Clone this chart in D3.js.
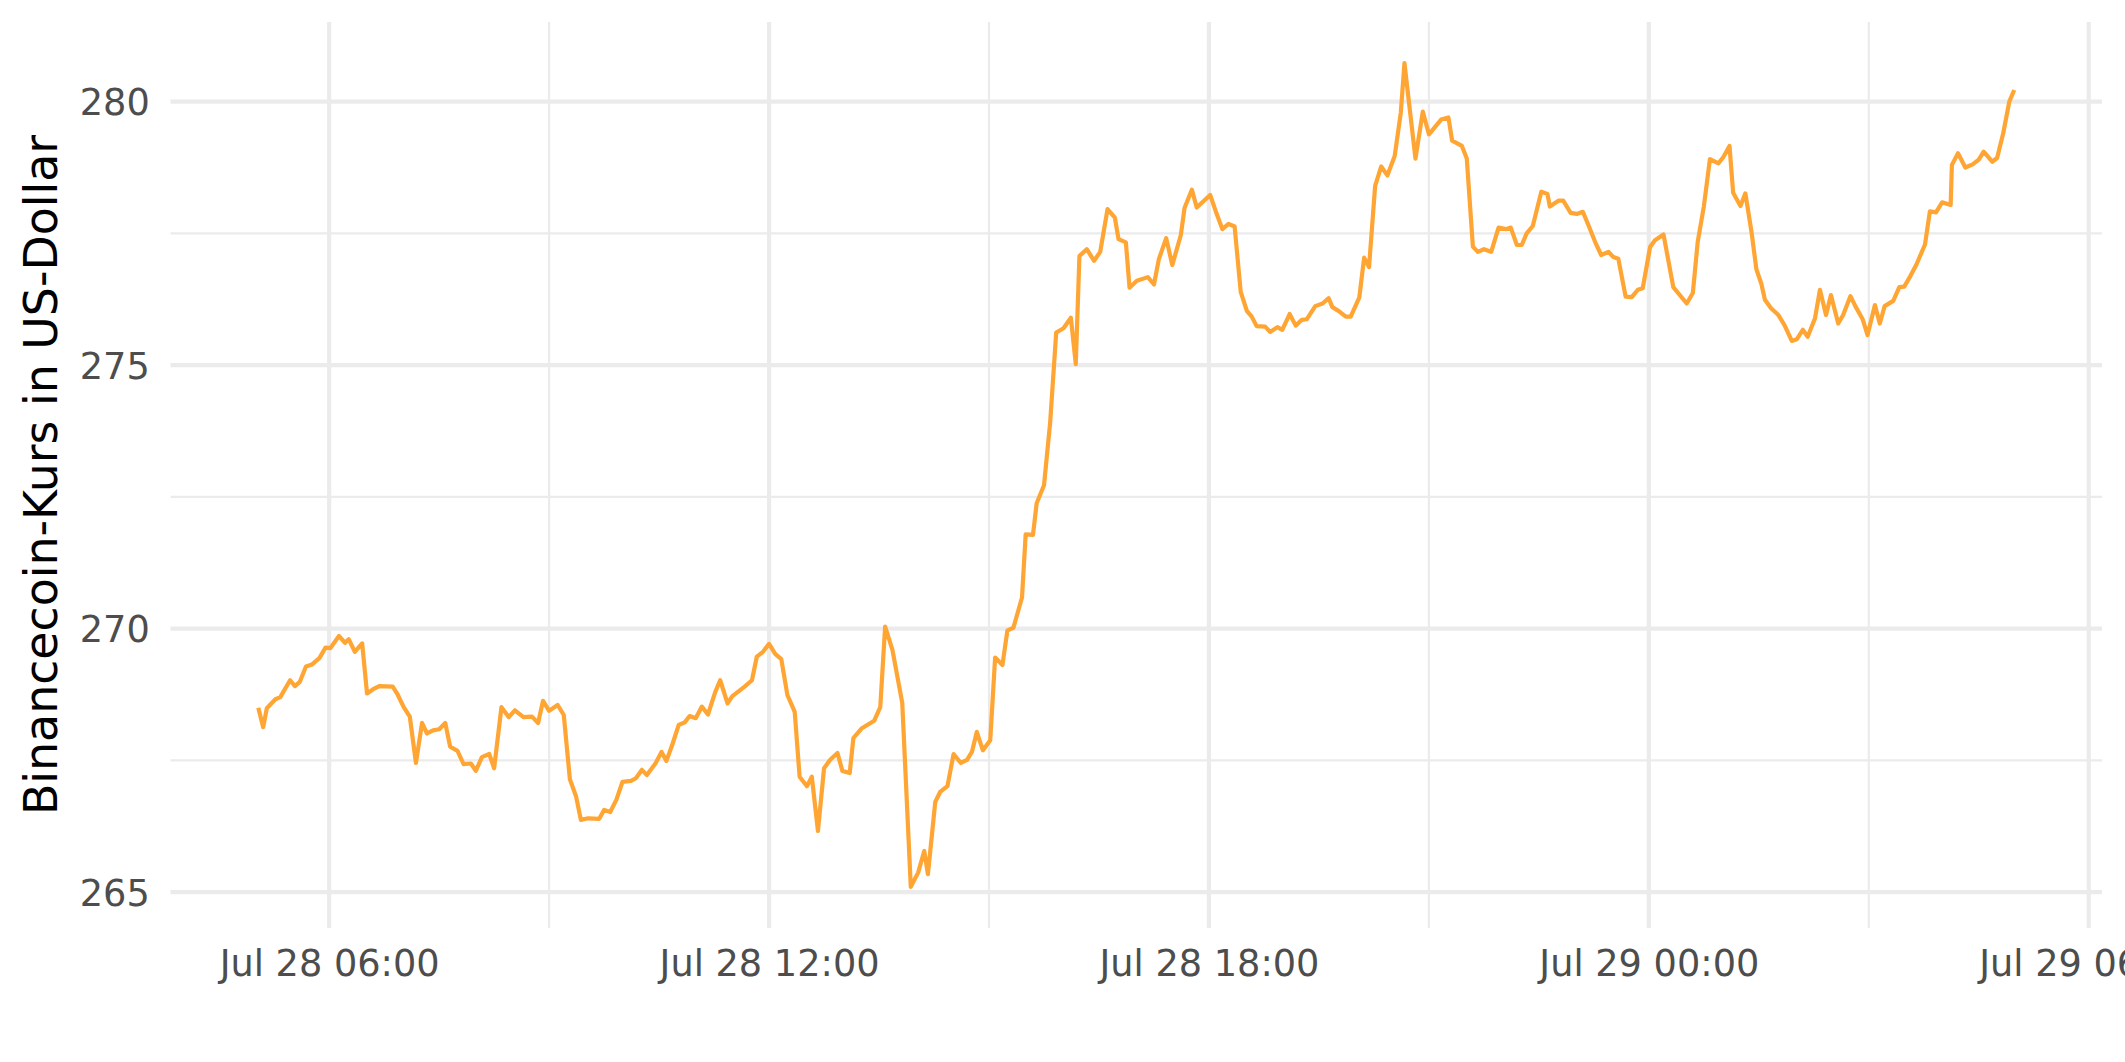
<!DOCTYPE html>
<html>
<head>
<meta charset="utf-8">
<script src="https://cdn.jsdelivr.net/npm/d3@7"></script>
<style>
  html, body { margin: 0; padding: 0; background: #ffffff; }
  svg { display: block; }
</style>
</head>
<body>
<svg id="chart" width="2125" height="1062"></svg>
<script>
// ---- Data ----
const times = [
"2022-07-28 05:02","2022-07-28 05:06","2022-07-28 05:09","2022-07-28 05:16","2022-07-28 05:20","2022-07-28 05:28","2022-07-28 05:32","2022-07-28 05:36","2022-07-28 05:41","2022-07-28 05:46",
"2022-07-28 05:52","2022-07-28 05:57","2022-07-28 06:01","2022-07-28 06:08","2022-07-28 06:13","2022-07-28 06:16","2022-07-28 06:21","2022-07-28 06:27","2022-07-28 06:31","2022-07-28 06:36",
"2022-07-28 06:41","2022-07-28 06:52","2022-07-28 06:56","2022-07-28 07:01","2022-07-28 07:06","2022-07-28 07:11","2022-07-28 07:16","2022-07-28 07:20","2022-07-28 07:25","2022-07-28 07:30",
"2022-07-28 07:35","2022-07-28 07:39","2022-07-28 07:45","2022-07-28 07:50","2022-07-28 07:56","2022-07-28 08:00","2022-07-28 08:05","2022-07-28 08:11","2022-07-28 08:15","2022-07-28 08:21",
"2022-07-28 08:27","2022-07-28 08:32","2022-07-28 08:39","2022-07-28 08:46","2022-07-28 08:51","2022-07-28 08:55","2022-07-28 09:00","2022-07-28 09:07","2022-07-28 09:12","2022-07-28 09:17",
"2022-07-28 09:22","2022-07-28 09:26","2022-07-28 09:32","2022-07-28 09:41","2022-07-28 09:45","2022-07-28 09:50","2022-07-28 09:55","2022-07-28 10:00","2022-07-28 10:07","2022-07-28 10:11",
"2022-07-28 10:16","2022-07-28 10:20","2022-07-28 10:27","2022-07-28 10:32","2022-07-28 10:36","2022-07-28 10:41","2022-07-28 10:46","2022-07-28 10:51","2022-07-28 10:55","2022-07-28 11:00",
"2022-07-28 11:05","2022-07-28 11:10","2022-07-28 11:16","2022-07-28 11:20","2022-07-28 11:26","2022-07-28 11:30","2022-07-28 11:40","2022-07-28 11:46","2022-07-28 11:50","2022-07-28 11:55",
"2022-07-28 12:00","2022-07-28 12:05","2022-07-28 12:10","2022-07-28 12:15","2022-07-28 12:21","2022-07-28 12:25","2022-07-28 12:31","2022-07-28 12:35","2022-07-28 12:40","2022-07-28 12:45",
"2022-07-28 12:50","2022-07-28 12:56","2022-07-28 13:00","2022-07-28 13:06","2022-07-28 13:09","2022-07-28 13:16","2022-07-28 13:26","2022-07-28 13:31","2022-07-28 13:35","2022-07-28 13:41",
"2022-07-28 13:49","2022-07-28 13:56","2022-07-28 14:02","2022-07-28 14:07","2022-07-28 14:10","2022-07-28 14:16","2022-07-28 14:20","2022-07-28 14:26","2022-07-28 14:31","2022-07-28 14:37",
"2022-07-28 14:42","2022-07-28 14:46","2022-07-28 14:50","2022-07-28 14:55","2022-07-28 15:01","2022-07-28 15:05","2022-07-28 15:11","2022-07-28 15:15","2022-07-28 15:20","2022-07-28 15:27",
"2022-07-28 15:30","2022-07-28 15:36","2022-07-28 15:39","2022-07-28 15:45","2022-07-28 15:50","2022-07-28 15:55","2022-07-28 16:01","2022-07-28 16:07","2022-07-28 16:11","2022-07-28 16:14",
"2022-07-28 16:20","2022-07-28 16:26","2022-07-28 16:31","2022-07-28 16:37","2022-07-28 16:43","2022-07-28 16:46","2022-07-28 16:52","2022-07-28 16:55","2022-07-28 17:01","2022-07-28 17:10",
"2022-07-28 17:15","2022-07-28 17:19","2022-07-28 17:25","2022-07-28 17:30","2022-07-28 17:37","2022-07-28 17:40","2022-07-28 17:46","2022-07-28 17:50","2022-07-28 18:01","2022-07-28 18:06",
"2022-07-28 18:11","2022-07-28 18:16","2022-07-28 18:21","2022-07-28 18:26","2022-07-28 18:31","2022-07-28 18:35","2022-07-28 18:39","2022-07-28 18:46","2022-07-28 18:50","2022-07-28 18:56",
"2022-07-28 19:00","2022-07-28 19:06","2022-07-28 19:11","2022-07-28 19:16","2022-07-28 19:20","2022-07-28 19:27","2022-07-28 19:33","2022-07-28 19:38","2022-07-28 19:41","2022-07-28 19:46",
"2022-07-28 19:52","2022-07-28 19:56","2022-07-28 20:03","2022-07-28 20:07","2022-07-28 20:11","2022-07-28 20:16","2022-07-28 20:21","2022-07-28 20:26","2022-07-28 20:32","2022-07-28 20:37",
"2022-07-28 20:40","2022-07-28 20:49","2022-07-28 20:55","2022-07-28 21:00","2022-07-28 21:10","2022-07-28 21:16","2022-07-28 21:19","2022-07-28 21:27","2022-07-28 21:31","2022-07-28 21:36",
"2022-07-28 21:40","2022-07-28 21:45","2022-07-28 21:51","2022-07-28 21:57","2022-07-28 22:03","2022-07-28 22:07","2022-07-28 22:12","2022-07-28 22:16","2022-07-28 22:20","2022-07-28 22:25",
"2022-07-28 22:32","2022-07-28 22:37","2022-07-28 22:39","2022-07-28 22:46","2022-07-28 22:50","2022-07-28 22:56","2022-07-28 23:01","2022-07-28 23:06","2022-07-28 23:11","2022-07-28 23:16",
"2022-07-28 23:21","2022-07-28 23:27","2022-07-28 23:31","2022-07-28 23:35","2022-07-28 23:41","2022-07-28 23:46","2022-07-28 23:51","2022-07-28 23:55","2022-07-29 00:01","2022-07-29 00:05",
"2022-07-29 00:12","2022-07-29 00:20","2022-07-29 00:31","2022-07-29 00:36","2022-07-29 00:40","2022-07-29 00:45","2022-07-29 00:50","2022-07-29 00:57","2022-07-29 01:01","2022-07-29 01:06",
"2022-07-29 01:09","2022-07-29 01:15","2022-07-29 01:19","2022-07-29 01:24","2022-07-29 01:28","2022-07-29 01:32","2022-07-29 01:35","2022-07-29 01:40","2022-07-29 01:46","2022-07-29 01:51",
"2022-07-29 01:57","2022-07-29 02:01","2022-07-29 02:06","2022-07-29 02:10","2022-07-29 02:16","2022-07-29 02:20","2022-07-29 02:25","2022-07-29 02:29","2022-07-29 02:35","2022-07-29 02:39",
"2022-07-29 02:45","2022-07-29 02:49","2022-07-29 02:55","2022-07-29 02:59","2022-07-29 03:05","2022-07-29 03:09","2022-07-29 03:13","2022-07-29 03:20","2022-07-29 03:25","2022-07-29 03:29",
"2022-07-29 03:34","2022-07-29 03:39","2022-07-29 03:46","2022-07-29 03:50","2022-07-29 03:55","2022-07-29 04:00","2022-07-29 04:07","2022-07-29 04:08","2022-07-29 04:13","2022-07-29 04:19",
"2022-07-29 04:25","2022-07-29 04:30","2022-07-29 04:34","2022-07-29 04:41","2022-07-29 04:45","2022-07-29 04:50","2022-07-29 04:55","2022-07-29 04:59"
];
const prices = [
268.50,268.13,268.49,268.66,268.70,269.02,268.91,268.99,269.28,269.32,
269.44,269.64,269.63,269.86,269.73,269.80,269.56,269.72,268.77,268.85,
268.91,268.90,268.75,268.51,268.33,267.45,268.21,268.01,268.07,268.09,
268.21,267.76,267.68,267.43,267.44,267.30,267.56,267.62,267.35,268.51,
268.32,268.45,268.32,268.33,268.21,268.63,268.44,268.55,268.36,267.14,
266.82,266.37,266.40,266.39,266.56,266.52,266.75,267.09,267.11,267.16,
267.32,267.22,267.44,267.66,267.49,267.81,268.17,268.22,268.34,268.30,
268.52,268.37,268.80,269.02,268.58,268.72,268.90,269.02,269.47,269.56,
269.71,269.52,269.42,268.74,268.42,267.19,267.01,267.19,266.16,267.35,
267.51,267.64,267.30,267.26,267.92,268.11,268.25,268.51,270.04,269.59,
268.59,265.10,265.37,265.78,265.34,266.71,266.90,267.01,267.62,267.45,
267.51,267.66,268.04,267.69,267.88,269.45,269.31,269.96,270.02,270.59,
271.79,271.78,272.38,272.72,273.90,275.62,275.70,275.90,275.02,277.07,
277.20,276.98,277.15,277.96,277.80,277.39,277.33,276.47,276.60,276.67,
276.53,277.01,277.41,276.90,277.47,277.98,278.33,277.99,278.23,277.89,
277.58,277.68,277.63,276.39,276.03,275.92,275.74,275.73,275.63,275.72,
275.67,275.97,275.75,275.86,275.87,276.12,276.17,276.27,276.10,276.03,
275.92,275.92,276.28,277.04,276.86,278.40,278.77,278.60,278.97,279.79,
280.73,278.92,279.81,279.38,279.66,279.70,279.26,279.16,278.92,277.25,
277.15,277.20,277.15,277.61,277.58,277.61,277.28,277.28,277.50,277.64,
278.29,278.25,278.01,278.12,278.12,277.89,277.87,277.91,277.63,277.34,
277.09,277.15,277.05,277.02,276.30,276.29,276.43,276.46,277.24,277.37,
277.48,276.48,276.17,276.37,277.34,278.01,278.91,278.83,278.95,279.16,
278.27,278.02,278.26,277.53,276.82,276.55,276.24,276.08,275.95,275.76,
275.46,275.49,275.67,275.54,275.89,276.43,275.95,276.33,275.79,275.95,
276.31,276.12,275.87,275.57,276.14,275.79,276.12,276.22,276.48,276.49,
276.69,276.91,277.29,277.92,277.90,278.09,278.04,278.80,279.02,278.75,
278.81,278.90,279.05,278.86,278.93,279.40,280.00,280.22
];
const yMajorTicks = [265, 270, 275, 280];
const yMinorTicks = [267.5, 272.5, 277.5];
const xMajorTicks = ["2022-07-28 06:00","2022-07-28 12:00","2022-07-28 18:00","2022-07-29 00:00","2022-07-29 06:00"];
const xMinorTicks = ["2022-07-28 09:00","2022-07-28 15:00","2022-07-28 21:00","2022-07-29 03:00"];
const yTitle = "Binancecoin-Kurs in US-Dollar";

// ---- Build ----
const parse = d3.timeParse("%Y-%m-%d %H:%M");
const data = times.map((t, i) => ({ t: parse(t), v: prices[i] }));

const panel = { left: 170.5, right: 2102, top: 22, bottom: 928 };

const tExt = d3.extent(data, d => d.t);
const tPad = (tExt[1] - tExt[0]) * 0.05;
const x = d3.scaleTime()
  .domain([new Date(+tExt[0] - tPad), new Date(+tExt[1] + tPad)])
  .range([panel.left, panel.right]);

const vExt = d3.extent(data, d => d.v);
const vPad = (vExt[1] - vExt[0]) * 0.05;
const y = d3.scaleLinear()
  .domain([vExt[0] - vPad, vExt[1] + vPad])
  .range([panel.bottom, panel.top]);

const svg = d3.select("#chart");
svg.append("rect").attr("width", 2125).attr("height", 1062).attr("fill", "#ffffff");

const font = "'DejaVu Sans', sans-serif";
const grid = svg.append("g");

// minor gridlines
grid.selectAll(".ymin").data(yMinorTicks).join("line")
  .attr("x1", panel.left).attr("x2", panel.right)
  .attr("y1", d => y(d)).attr("y2", d => y(d))
  .attr("stroke", "#ebebeb").attr("stroke-width", 2.2);
grid.selectAll(".xmin").data(xMinorTicks.map(parse)).join("line")
  .attr("y1", panel.top).attr("y2", panel.bottom)
  .attr("x1", d => x(d)).attr("x2", d => x(d))
  .attr("stroke", "#ebebeb").attr("stroke-width", 2.2);
// major gridlines
grid.selectAll(".ymaj").data(yMajorTicks).join("line")
  .attr("x1", panel.left).attr("x2", panel.right)
  .attr("y1", d => y(d)).attr("y2", d => y(d))
  .attr("stroke", "#ebebeb").attr("stroke-width", 4.2);
grid.selectAll(".xmaj").data(xMajorTicks.map(parse)).join("line")
  .attr("y1", panel.top).attr("y2", panel.bottom)
  .attr("x1", d => x(d)).attr("x2", d => x(d))
  .attr("stroke", "#ebebeb").attr("stroke-width", 4.2);

// axes (ticks hidden, text only)
const fmt = d3.timeFormat("%b %d %H:%M");
const xAxis = d3.axisBottom(x).tickValues(xMajorTicks.map(parse)).tickFormat(fmt).tickSize(0).tickPadding(0);
const gx = svg.append("g").attr("transform", `translate(0,${panel.bottom + 20.7})`).call(xAxis);
gx.select(".domain").remove();
gx.selectAll("text")
  .attr("dy", null).attr("y", 27)
  .attr("font-family", font).attr("font-size", 36.7).attr("fill", "#4d4d4d");

const yAxis = d3.axisLeft(y).tickValues(yMajorTicks).tickFormat(d3.format("d")).tickSize(0).tickPadding(0);
const gy = svg.append("g").attr("transform", `translate(${panel.left - 20.7},0)`).call(yAxis);
gy.select(".domain").remove();
gy.selectAll("text")
  .attr("x", 0).attr("dy", "0.36em")
  .attr("font-family", font).attr("font-size", 36.7).attr("fill", "#4d4d4d");

// line
const line = d3.line().x(d => x(d.t)).y(d => y(d.v));
svg.append("path").datum(data)
  .attr("d", line)
  .attr("fill", "none")
  .attr("stroke", "#ffa533")
  .attr("stroke-width", 4.2)
  .attr("stroke-linejoin", "round")
  .attr("stroke-linecap", "butt");

// y title
svg.append("text")
  .attr("transform", `translate(57,${(panel.top + panel.bottom) / 2}) rotate(-90)`)
  .attr("text-anchor", "middle")
  .attr("font-family", font).attr("font-size", 45.8).attr("fill", "#000000")
  .text(yTitle);
</script>
</body>
</html>
